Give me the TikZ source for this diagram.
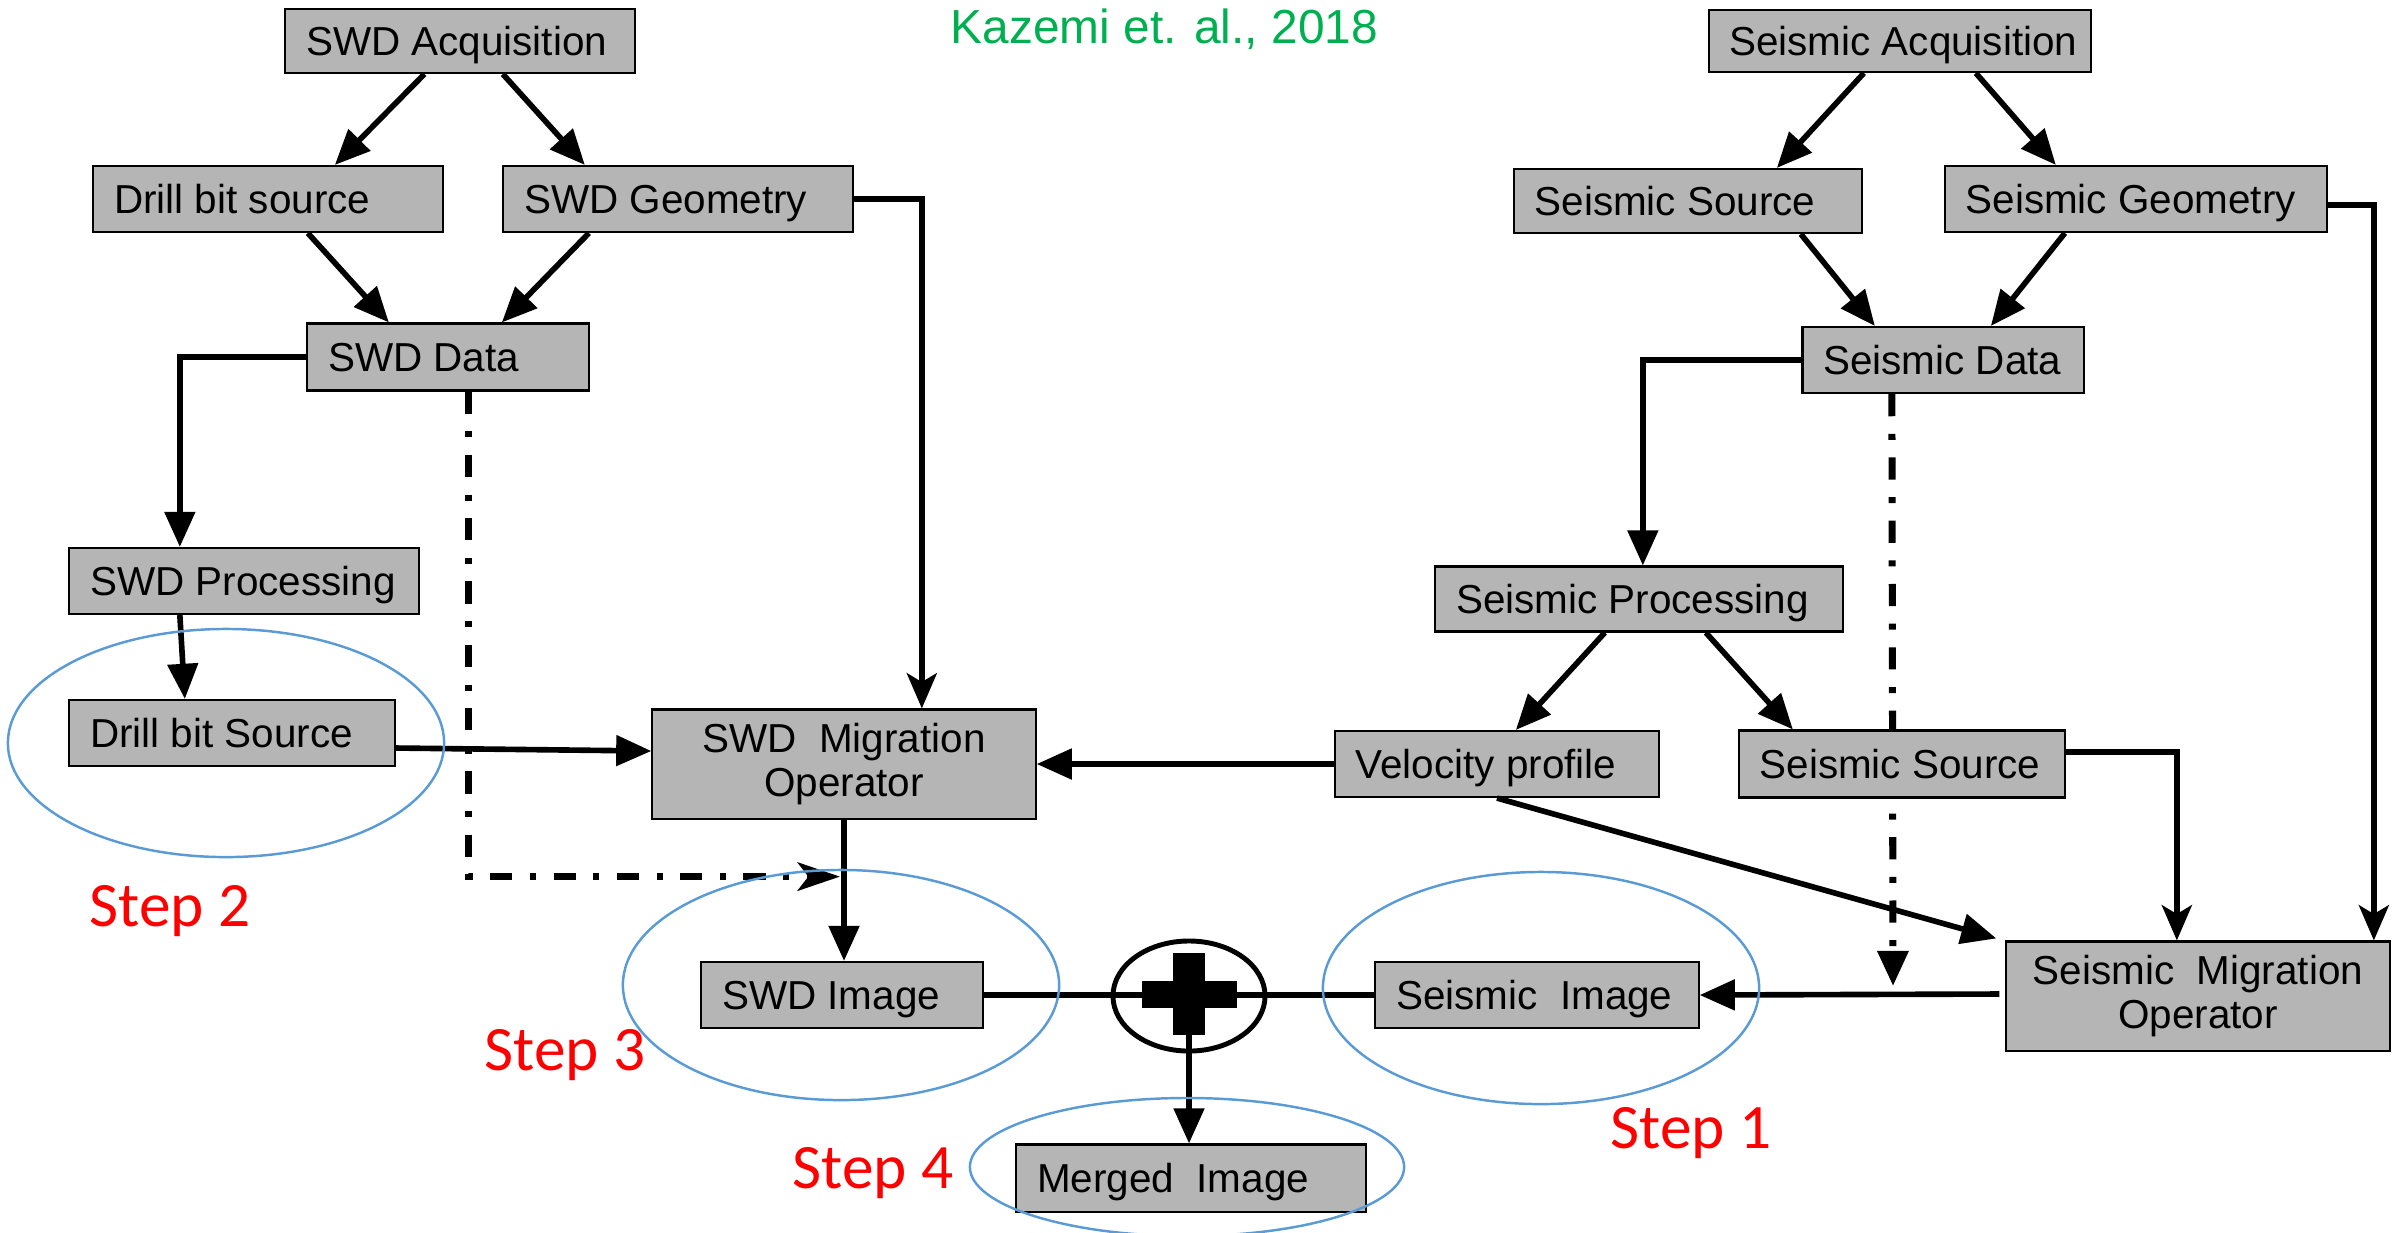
\documentclass[tikz,border=0pt]{standalone}
\usepackage{fontspec}
\setmainfont{Liberation Sans}
\newfontfamily\stepfont{Carlito}
\usetikzlibrary{arrows.meta,calc,shapes.geometric,backgrounds}
\definecolor{boxgray}{RGB}{181,181,181}
\definecolor{stepblue}{RGB}{91,155,213}
\definecolor{citegreen}{RGB}{0,176,80}
\definecolor{stepred}{RGB}{255,0,0}
\begin{document}
\begin{tikzpicture}[x=0.01cm,y=-0.01cm,
 box/.style={draw=black, fill=boxgray, line width=0.6pt, inner sep=0pt, rectangle},
 lbl/.style={anchor=west, inner sep=0pt, font=\fontsize{11.5}{13}\selectfont, text height=8.2pt, text depth=0pt},
 migtxt/.style={font=\fontsize{11.5}{12.5}\selectfont, align=center},
 arr/.style={line width=1.6pt, -{Triangle[length=10pt,width=8.5pt]}},
 sarr/.style={line width=1.6pt, -{Stealth[length=10pt,width=8.5pt,inset=2.5pt]}},
 plainline/.style={line width=1.6pt},
 dashdot/.style={line width=2pt, dash pattern=on 6.3pt off 5pt on 1.7pt off 5pt},
 ring/.style={draw=stepblue, line width=0.7pt, ellipse, inner sep=0pt},
 steplbl/.style={anchor=base west, inner sep=0pt, text=stepred, font=\stepfont\fontsize{18}{20}\selectfont},
]
\useasboundingbox (0,0) rectangle (2407,1232);

% title
\node[anchor=base west, inner sep=0pt, text=citegreen, font=\fontsize{13.6}{16}\selectfont] (cite) at (950,43) {Kazemi et. al., 2018};

% SWD side boxes
\node[box, minimum width=3.49cm, minimum height=0.64cm] (acq) at (460,41) {};
\node[lbl] (acqT) at ([xshift=0.21cm]acq.west) {SWD Acquisition};
\node[box, minimum width=3.49cm, minimum height=0.66cm] (dbs) at (268,199) {};
\node[lbl] (dbsT) at ([xshift=0.21cm]dbs.west) {Drill bit source};
\node[box, minimum width=3.49cm, minimum height=0.66cm] (swdgeo) at (678,199) {};
\node[lbl] (swdgeoT) at ([xshift=0.21cm]swdgeo.west) {SWD Geometry};
\node[box, minimum width=2.81cm, minimum height=0.67cm] (swddata) at (448,357) {};
\node[lbl] (swddataT) at ([xshift=0.21cm]swddata.west) {SWD Data};
\node[box, minimum width=3.49cm, minimum height=0.66cm] (swdproc) at (244,581) {};
\node[lbl] (swdprocT) at ([xshift=0.21cm]swdproc.west) {SWD Processing};
\node[box, minimum width=3.25cm, minimum height=0.66cm] (dbs2) at (232,733) {};
\node[lbl] (dbs2T) at ([xshift=0.21cm]dbs2.west) {Drill bit Source};
\node[box, migtxt, minimum width=3.83cm, minimum height=1.09cm] (swdmig) at (844,764) {SWD\ \ Migration\\Operator};
\node[box, minimum width=2.81cm, minimum height=0.66cm] (swdimg) at (842,995) {};
\node[lbl] (swdimgT) at ([xshift=0.21cm]swdimg.west) {SWD Image};
\node[box, minimum width=3.49cm, minimum height=0.67cm] (merged) at (1191,1178) {};
\node[lbl] (mergedT) at ([xshift=0.21cm]merged.west) {Merged\ \ Image};

% Seismic side boxes
\node[box, minimum width=3.81cm, minimum height=0.62cm] (seisacq) at (1900,41) {};
\node[lbl] (seisacqT) at ([xshift=0.2cm]seisacq.west) {Seismic Acquisition};
\node[box, minimum width=3.48cm, minimum height=0.64cm] (seissrc1) at (1688,201) {};
\node[lbl] (seissrc1T) at ([xshift=0.21cm]seissrc1.west) {Seismic Source};
\node[box, minimum width=3.82cm, minimum height=0.66cm] (seisgeo) at (2136,199) {};
\node[lbl] (seisgeoT) at ([xshift=0.21cm]seisgeo.west) {Seismic Geometry};
\node[box, minimum width=2.81cm, minimum height=0.66cm] (seisdata) at (1943,360) {};
\node[lbl] (seisdataT) at ([xshift=0.21cm]seisdata.west) {Seismic Data};
\node[box, minimum width=4.07cm, minimum height=0.65cm] (seisproc) at (1639,599) {};
\node[lbl] (seisprocT) at ([xshift=0.21cm]seisproc.west) {Seismic Processing};
\node[box, minimum width=3.24cm, minimum height=0.66cm] (vel) at (1497,764) {};
\node[lbl] (velT) at ([xshift=0.21cm]vel.west) {Velocity profile};
\node[box, minimum width=3.26cm, minimum height=0.67cm] (seissrc2) at (1902,764) {};
\node[lbl] (seissrc2T) at ([xshift=0.21cm]seissrc2.west) {Seismic Source};
\node[box, migtxt, minimum width=3.83cm, minimum height=1.09cm] (seismig) at (2198,996) {Seismic\ \ Migration\\Operator};
\node[box, minimum width=3.23cm, minimum height=0.66cm] (seisimg) at (1537,995) {};
\node[lbl] (seisimgT) at ([xshift=0.21cm]seisimg.west) {Seismic\ \ Image};

% plus (sum) symbol
\node[draw=black, line width=1.4pt, ellipse, inner sep=0pt, minimum width=1.52cm, minimum height=1.1cm] (plus) at (1189,996) {};

% SWD connectors
\draw[arr] ($(acq.south west)+(140,0)$) -- ($(dbs.north west)+(242.5,0)$);
\draw[arr] ($(acq.south west)+(218.5,0)$) -- ($(swdgeo.north west)+(82.5,0)$);
\draw[arr] ($(dbs.south west)+(215.5,0)$) -- ($(swddata.north west)+(82.5,0)$);
\draw[arr] ($(swdgeo.south west)+(86.5,0)$) -- ($(swddata.north west)+(195.5,0)$);
\draw[arr] (swddata.west) -| ($(swdproc.north west)+(111.5,0)$);
\draw[sarr] (swdgeo.east) -| ($(swdmig.north west)+(270.5,0)$);
\draw[arr] ($(swdproc.south west)+(111.5,0)$) -- ($(dbs2.north west)+(116.5,0)$);
\draw[arr] ($(dbs2.east)+(0,15)$) -- ($(swdmig.west)+(0,-13)$);
\draw[arr] (vel.west) -- (swdmig.east);
\draw[dashdot, -{Stealth[length=12pt,width=8pt,inset=3pt]}] ($(swddata.south west)+(162.5,0)$) |- ($(swdmig.south)+(-4,57)$);
\draw[arr] (swdmig.south) -- (swdmig.south |- swdimg.north);

% Seismic connectors
\draw[arr] ($(seisacq.south west)+(155.5,0)$) -- ($(seissrc1.north west)+(264,0)$);
\draw[arr] ($(seisacq.south west)+(267.5,0)$) -- ($(seisgeo.north west)+(112,0)$);
\draw[arr] ($(seissrc1.south west)+(288,0)$) -- ($(seisdata.north west)+(73.5,0)$);
\draw[arr] ($(seisgeo.south west)+(121,0)$) -- ($(seisdata.north west)+(189.5,0)$);
\draw[arr] (seisdata.west) -| ($(seisproc.north west)+(208.5,0)$);
\draw[arr] ($(seisproc.south west)+(170.5,0)$) -- ($(vel.north west)+(182,0)$);
\draw[arr] ($(seisproc.south west)+(271.5,0)$) -- ($(seissrc2.north west)+(55,0)$);
\coordinate (ddtip) at (1893,986);
\begin{pgfonlayer}{background}
\draw[dashdot, -{Triangle[length=10pt,width=8.5pt]}] ($(seisdata.south west)+(90.5,0)$) -- (ddtip);
\end{pgfonlayer}
\draw[arr] (vel.south) -- ($(seismig.north west)+(-9,-2)$);
\draw[sarr] ($(seissrc2.east)+(0,-12)$) -| ($(seismig.north west)+(171.5,0)$);
\draw[sarr] ($(seisgeo.east)+(0,6)$) -| ($(seismig.north west)+(368.5,0)$);
\draw[arr] ($(seismig.west)+(-6,-2)$) -- (seisimg.east);

% merging
\draw[plainline] (swdimg.east) -- (seisimg.west);
\draw[arr] (plus.center) -- (plus.center |- merged.north);
\fill[black] ($(plus.center)+(-47,-15)$) rectangle ($(plus.center)+(48,12)$);
\fill[black] ($(plus.center)+(-16,-43)$) rectangle ($(plus.center)+(16,39)$);

% step rings
\node[ring, minimum width=4.36cm, minimum height=2.28cm] (ring2) at (226,743) {};
\node[ring, minimum width=4.36cm, minimum height=2.3cm] (ring3) at (841,985) {};
\node[ring, minimum width=4.36cm, minimum height=2.32cm] (ring1) at (1541,988) {};
\node[ring, minimum width=4.34cm, minimum height=1.38cm] (ring4) at (1187,1167) {};

% step labels
\node[steplbl] (st2) at (89,926) {Step 2};
\node[steplbl] (st3) at (484,1070) {Step 3};
\node[steplbl] (st4) at (792,1188) {Step 4};
\node[steplbl] (st1) at (1610,1148) {Step 1};
\end{tikzpicture}
\end{document}
